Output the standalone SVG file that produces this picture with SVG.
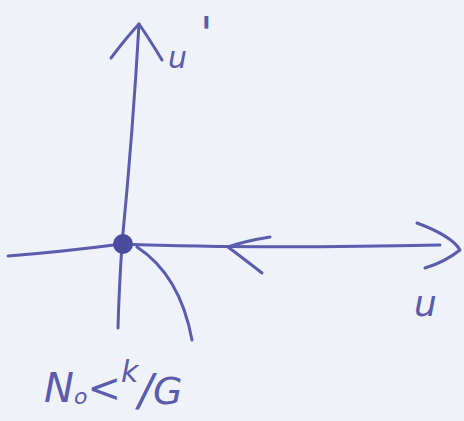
<svg xmlns="http://www.w3.org/2000/svg" width="464" height="421" viewBox="0 0 464 421">
<style>
.ink{fill:none;stroke:#5a5cae;stroke-width:3;stroke-linecap:round;stroke-linejoin:round}
.lbl{fill:#5a5cae;font-family:"DejaVu Sans","Liberation Sans",sans-serif;font-style:italic}
</style>
<rect width="464" height="421" fill="#eff2f8"/>
<g id="connectors">
<path class="ink" d="M139,24 Q133,130 122,244 Q119,290 118,328"/>
<path class="ink" d="M111,58 Q126,38 139,24 Q150,40 162,60"/>
<path class="ink" d="M8,256 Q60,252 122,244 Q250,249 440,245"/>
<path class="ink" d="M417,223 Q452,236 460,250 Q445,262 425,268"/>
<path class="ink" d="M270,237 Q245,241 228,247 Q248,262 262,273"/>
<path class="ink" d="M137,247 Q180,275 192,340"/>
</g>
<g id="origin">
<circle cx="123" cy="244" r="10" fill="#4a4c9e"/>
</g>
<g id="label-uprime">
<text class="lbl" x="168" y="68" font-size="30">u</text>
<text class="lbl" x="200" y="50" font-size="46">'</text>
</g>
<g id="label-u">
<text class="lbl" x="414" y="316" font-size="36">u</text>
</g>
<g id="label-condition">
<text class="lbl" x="44" y="402" font-size="40">N<tspan font-size="22" dy="2">o</tspan><tspan dy="-2">&lt;</tspan><tspan font-size="30" dy="-20">k</tspan><tspan font-size="44" dy="24">/</tspan><tspan font-size="38" dy="-2">G</tspan></text>
</g>
</svg>
